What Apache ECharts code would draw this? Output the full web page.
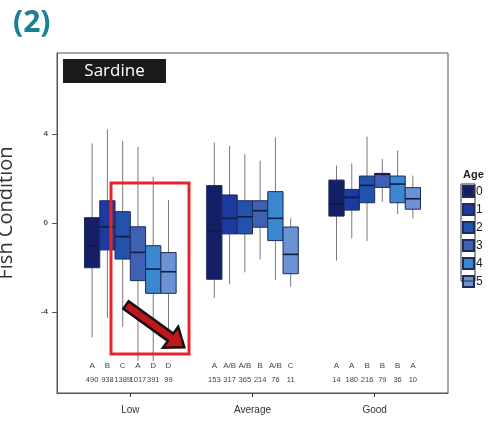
<!DOCTYPE html>
<html>
<head>
<meta charset="utf-8">
<script src="https://cdn.jsdelivr.net/npm/echarts@6/dist/echarts.min.js"></script>
<style>
  html, body { margin: 0; padding: 0; background: #fff; }
  #fish-chart { width: 489px; height: 423px; }
</style>
</head>
<body>
<div id="fish-chart"></div>
<script>
  // condition classes on the x axis
  const categories = ['Low', 'Average', 'Good'];
  const ages = ['0', '1', '2', '3', '4', '5'];
  const ageColors = ['#151f66', '#1d3a9e', '#2352ac', '#4060b3', '#3a88cf', '#6b92d3'];

  // [class index, min, Q1, median, Q3, max] for each age
  const age0 = [[0, -5.14, -2.01, -1.03, 0.24, 3.58], [1, -3.36, -2.53, -0.36, 1.68, 3.61], [2, -1.69, 0.31, 0.84, 1.93, 2.58]];
  const age1 = [[0, -4.28, -1.21, -0.17, 1.00, 4.21], [1, -2.76, -0.49, 0.21, 1.26, 3.46], [2, -0.69, 0.58, 1.15, 1.51, 2.68]];
  const age2 = [[0, -4.66, -1.62, -0.61, 0.51, 3.70], [1, -2.22, -0.49, 0.28, 1.00, 3.09], [2, -0.81, 0.91, 1.69, 2.11, 3.88]];
  const age3 = [[0, -6.20, -2.59, -1.32, -0.17, 3.43], [1, -1.63, -0.19, 0.55, 1.00, 2.80], [2, 0.96, 1.60, 2.19, 2.23, 2.88]];
  const age4 = [[0, -6.20, -3.16, -2.07, -1.02, 2.08], [1, -2.56, -0.79, 0.21, 1.41, 3.85], [2, 0.40, 0.91, 1.75, 2.11, 3.25]];
  const age5 = [[0, -5.50, -3.16, -2.19, -1.33, 1.03], [1, -2.86, -2.28, -1.41, -0.18, 0.21], [2, 0.21, 0.62, 1.09, 1.59, 2.13]];
  const ageData = [age0, age1, age2, age3, age4, age5];

  // letters and sample sizes under each box, per class, ordered by age
  const lettersLow = ['A', 'B', 'C', 'A', 'D', 'D'];
  const lettersAverage = ['A', 'A/B', 'A/B', 'B', 'A/B', 'C'];
  const lettersGood = ['A', 'A', 'B', 'B', 'B', 'A'];
  const countsLow = [490, 938, 1389, 1017, 391, 99];
  const countsAverage = [153, 317, 365, 214, 76, 11];
  const countsGood = [14, 180, 216, 79, 36, 10];
  const letters = [lettersLow, lettersAverage, lettersGood];
  const counts = [countsLow, countsAverage, countsGood];

  const yTicks = [-4, 0, 4];
  const letterLevel = -6.43;
  const countLevel = -7.06;

  const chart = echarts.init(document.getElementById('fish-chart'));

  function makeRender(ageIdx) {
    return function (params, api) {
      const cat = api.value(0);
      const band = api.size([1, 0])[0];
      const w = band * 0.125;
      const off = (ageIdx - 2.5) * w;
      const pMin = api.coord([cat, api.value(1)]);
      const pQ1 = api.coord([cat, api.value(2)]);
      const pMed = api.coord([cat, api.value(3)]);
      const pQ3 = api.coord([cat, api.value(4)]);
      const pMax = api.coord([cat, api.value(5)]);
      const pLet = api.coord([cat, letterLevel]);
      const pCnt = api.coord([cat, countLevel]);
      const x = pMin[0] + off;
      return {
        type: 'group',
        children: [
          {
            type: 'line',
            shape: { x1: x, y1: pMax[1], x2: x, y2: pMin[1] },
            style: { stroke: '#7a7a7a', lineWidth: 1 }
          },
          {
            type: 'rect',
            shape: { x: x - w / 2, y: pQ3[1], width: w, height: pQ1[1] - pQ3[1] },
            style: { fill: ageColors[ageIdx], stroke: '#1c2c5c', lineWidth: 1 }
          },
          {
            type: 'line',
            shape: { x1: x - w / 2, y1: pMed[1], x2: x + w / 2, y2: pMed[1] },
            style: { stroke: '#0e1c44', lineWidth: 1.6 }
          },
          {
            type: 'text',
            x: x, y: pLet[1],
            style: {
              text: letters[cat][ageIdx], fill: '#444', fontSize: 8,
              fontFamily: 'Liberation Sans', align: 'center', verticalAlign: 'middle'
            }
          },
          {
            type: 'text',
            x: x, y: pCnt[1],
            style: {
              text: String(counts[cat][ageIdx]), fill: '#444', fontSize: 7.5,
              fontFamily: 'Liberation Sans', align: 'center', verticalAlign: 'middle'
            }
          }
        ]
      };
    };
  }

  const series = ages.map(function (age, i) {
    return {
      name: age,
      type: 'custom',
      renderItem: makeRender(i),
      itemStyle: { color: ageColors[i], borderColor: '#1c2c5c', borderWidth: 1 },
      encode: { x: 0, y: [1, 2, 3, 4, 5] },
      data: ageData[i]
    };
  });

  const arrowLen = 72;
  const option = {
    animation: false,
    title: [
      {
        text: '(2)', left: 8, top: 3,
        textStyle: { color: '#1b7f93', fontSize: 30, fontWeight: 'bold', fontFamily: 'Open Sans' }
      },
      {
        text: 'Age', left: 458, top: 164,
        textStyle: { color: '#222', fontSize: 11, fontWeight: 'bold', fontFamily: 'Liberation Sans' }
      }
    ],
    legend: {
      data: ages,
      orient: 'vertical',
      left: 462, top: 185,
      padding: 0,
      icon: 'rect',
      itemWidth: 11, itemHeight: 11, itemGap: 5,
      selectedMode: false,
      textStyle: { fontSize: 12, color: '#222', fontFamily: 'Liberation Sans', padding: [0, 0, 0, -3] }
    },
    grid: {
      left: 57, top: 53, right: 41, bottom: 30,
      containLabel: false, outerBoundsMode: 'none',
      show: true, borderColor: '#555', borderWidth: 1
    },
    xAxis: {
      type: 'value',
      min: -0.6, max: 2.6,
      splitLine: { show: false },
      axisLine: { show: true, onZero: false, lineStyle: { color: '#555' } },
      axisTick: { show: true, length: 4, inside: false, customValues: [0, 1, 2], lineStyle: { color: '#333' } },
      axisLabel: {
        customValues: [0, 1, 2], margin: 12, fontSize: 10, color: '#333', fontFamily: 'Liberation Sans',
        formatter: function (v) { return categories[Math.round(v)]; }
      }
    },
    yAxis: {
      type: 'value',
      min: -7.64, max: 7.64,
      name: 'Fish Condition',
      nameLocation: 'middle',
      nameGap: 41,
      nameTextStyle: { fontSize: 20, color: '#333', fontFamily: 'Open Sans', padding: [0, 0, 0, 20] },
      splitLine: { show: false },
      axisLine: { show: true, onZero: false, lineStyle: { color: '#555' } },
      axisTick: { show: true, length: 5, customValues: yTicks, lineStyle: { color: '#555' } },
      axisLabel: {
        customValues: yTicks, margin: 9, fontSize: 8, fontWeight: 'bold', color: '#555', fontFamily: 'Liberation Sans'
      }
    },
    graphic: [
      {
        type: 'group', left: 63, top: 59, z: 100,
        children: [
          { type: 'rect', shape: { x: 0, y: 0, width: 103, height: 24 }, style: { fill: '#1a1a1a' } },
          {
            type: 'text', x: 51.5, y: 12,
            style: { text: 'Sardine', fill: '#fff', fontSize: 17, fontFamily: 'Open Sans', align: 'center', verticalAlign: 'middle' }
          }
        ]
      },
      {
        type: 'rect', z: 100,
        shape: { x: 111, y: 183, width: 78, height: 171 },
        style: { fill: 'none', stroke: '#e8242b', lineWidth: 3 }
      },
      {
        type: 'polygon', z: 101,
        x: 126, y: 305,
        rotation: -Math.atan2(42, 58),
        shape: {
          points: [
            [0, -4.5], [arrowLen - 17, -4.5], [arrowLen - 17, -13], [arrowLen, 0],
            [arrowLen - 17, 13], [arrowLen - 17, 4.5], [0, 4.5]
          ]
        },
        style: { fill: '#c0161c', stroke: '#111', lineWidth: 2.5, lineJoin: 'miter' }
      },
      {
        type: 'rect', z: 100,
        shape: { x: 461, y: 184, width: 14, height: 97 },
        style: { fill: 'none', stroke: '#333', lineWidth: 1 }
      }
    ],
    series: series
  };

  chart.setOption(option);
  window.addEventListener('resize', function () {
    chart.resize();
  });
</script>
</body>
</html>
